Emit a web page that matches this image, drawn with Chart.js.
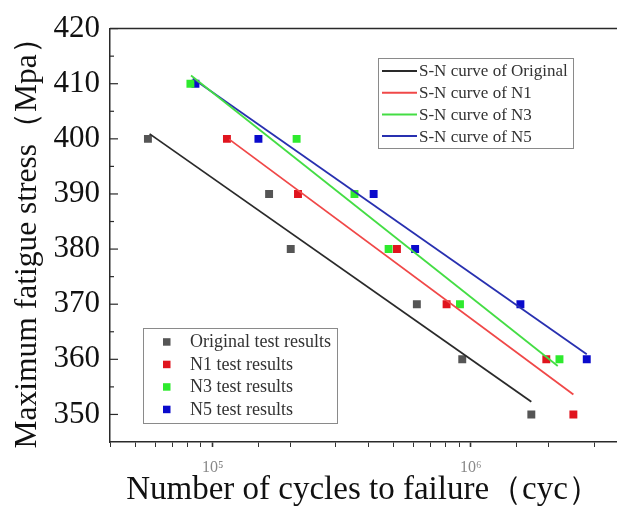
<!DOCTYPE html>
<html>
<head>
<meta charset="utf-8">
<script src="https://cdn.jsdelivr.net/npm/chart.js@4"></script>
<style>
html,body{margin:0;padding:0;background:#fff;overflow:hidden;width:617px;height:517px;}
#wrap{width:628px;height:517px;}
</style>
</head>
<body>
<div id="wrap"><canvas id="c" width="628" height="517"></canvas></div>
<script>
// ---- data (cycles to failure N, stress S in MPa) ----
const originalN = [56100, 165300, 200500, 617500, 925700, 1714000];
const originalS = [400, 390, 380, 370, 360, 350];
const n1N = [113500, 213900, 517000, 805000, 1959000, 2494000];
const n1S = [400, 390, 380, 370, 360, 350];
const n3N = [81950, 211300, 354000, 480000, 907000, 2203000];
const n3S = [410, 400, 390, 380, 370, 360];
const n5N = [85700, 150300, 420000, 608000, 1555000, 2810000];
const n5S = [410, 400, 390, 380, 370, 360];

// fitted S-N curves (end points)
const originalFitN = [56950, 1714000];
const originalFitS = [400.9, 352.3];
const n1FitN = [115900, 2494000];
const n1FitS = [399.9, 353.6];
const n3FitN = [82400, 2170000];
const n3FitS = [411.5, 358.8];
const n5FitN = [83700, 2810000];
const n5FitS = [410.95, 360.9];

const curveLabels = ['S-N curve of Original', 'S-N curve of N1', 'S-N curve of N3', 'S-N curve of N5'];
const pointLabels = ['Original test results', 'N1 test results', 'N3 test results', 'N5 test results'];
const xTickLabels = {5: '10\u2075', 6: '10\u2076'};

const xMin = 40000, xMax = 3680000, yMin = 345, yMax = 420;

const FONT = "'Liberation Serif', 'Times New Roman', 'DejaVu Serif', serif";
const lineColors = ['#2a2a2a', '#f04848', '#44dd44', '#2830b0'];
const pointColors = ['#555555', '#e0141e', '#2eea2e', '#0a0acc'];

function pts(xs, ys) { return xs.map((x, i) => ({x: x, y: ys[i]})); }

const seriesN = [originalN, n1N, n3N, n5N];
const seriesS = [originalS, n1S, n3S, n5S];
const fitN = [originalFitN, n1FitN, n3FitN, n5FitN];
const fitS = [originalFitS, n1FitS, n3FitS, n5FitS];

const datasets = [];
for (let i = 0; i < 4; i++) {
  datasets.push({
    label: pointLabels[i], kind: 'points',
    data: pts(seriesN[i], seriesS[i]),
    showLine: false, pointStyle: 'rect', pointRadius: 5.6,
    backgroundColor: pointColors[i], borderColor: pointColors[i], borderWidth: 0,
    order: 2
  });
}
for (let i = 0; i < 4; i++) {
  datasets.push({
    label: curveLabels[i], kind: 'curve',
    data: pts(fitN[i], fitS[i]),
    showLine: true, pointRadius: 0, borderWidth: 1.8,
    borderColor: lineColors[i], backgroundColor: lineColors[i],
    order: 1
  });
}

function isPow10(v) {
  const l = Math.log10(v);
  return Math.abs(l - Math.round(l)) < 1e-9;
}

const framePlugin = {
  id: 'frame',
  beforeDraw(chart) {
    const ctx = chart.ctx;
    ctx.save();
    ctx.fillStyle = '#fff';
    ctx.fillRect(0, 0, chart.width, chart.height);
    ctx.restore();
  },
  afterDraw(chart) {
    const {ctx, chartArea: a} = chart;
    const y = chart.scales.y;
    ctx.save();
    // top frame line
    ctx.strokeStyle = '#2a2a2a';
    ctx.lineWidth = 1.5;
    ctx.beginPath();
    ctx.moveTo(a.left, a.top);
    ctx.lineTo(chart.width + 2, a.top);
    ctx.stroke();
    // inward y ticks
    ctx.lineWidth = 1.2;
    y.ticks.forEach(t => {
      if (t.value <= y.min) return;
      const py = y.getPixelForValue(t.value);
      const len = (t.value % 10 === 0) ? 8 : 4;
      ctx.beginPath();
      ctx.moveTo(a.left, py);
      ctx.lineTo(a.left + len, py);
      ctx.stroke();
    });

    const ds = chart.data.datasets;
    // legend of curves
    const curves = ds.filter(d => d.kind === 'curve');
    ctx.fillStyle = '#fff';
    ctx.strokeStyle = '#8a8a8a';
    ctx.lineWidth = 1;
    ctx.fillRect(378, 58, 195, 90);
    ctx.strokeRect(378.5, 58.5, 195, 90);
    ctx.font = '17px ' + FONT;
    ctx.textBaseline = 'middle';
    ctx.textAlign = 'left';
    curves.forEach((d, i) => {
      const ry = 71 + i * 21.7;
      ctx.strokeStyle = d.borderColor;
      ctx.lineWidth = 2;
      ctx.beginPath();
      ctx.moveTo(382, ry);
      ctx.lineTo(417, ry);
      ctx.stroke();
      ctx.fillStyle = '#333';
      ctx.fillText(d.label, 419, ry + 1);
    });
    // legend of test points
    const points = ds.filter(d => d.kind === 'points');
    ctx.fillStyle = '#fff';
    ctx.strokeStyle = '#8a8a8a';
    ctx.lineWidth = 1;
    ctx.fillRect(143, 328, 194, 95);
    ctx.strokeRect(143.5, 328.5, 194, 95);
    ctx.font = '18px ' + FONT;
    points.forEach((d, i) => {
      const ry = 341.7 + i * 22.5;
      ctx.fillStyle = d.backgroundColor;
      ctx.fillRect(163, ry - 3.5, 7.5, 7.5);
      ctx.fillStyle = '#333';
      ctx.fillText(d.label, 190, ry + 1);
    });
    ctx.restore();
  }
};

new Chart(document.getElementById('c'), {
  type: 'scatter',
  data: {datasets: datasets},
  options: {
    responsive: false,
    animation: false,
    layout: {padding: {top: 25, right: 0, left: 0, bottom: 0}},
    plugins: {legend: {display: false}, tooltip: {enabled: false}},
    scales: {
      x: {
        type: 'logarithmic', min: xMin, max: xMax,
        grid: {
          drawOnChartArea: false, tickLength: 5, tickColor: '#333',
          tickWidth: c => (c.tick && isPow10(c.tick.value)) ? 1.6 : 1
        },
        border: {color: '#2a2a2a', width: 1.5},
        ticks: {
          autoSkip: false, maxRotation: 0, padding: 11, color: '#888',
          font: {family: FONT, size: 16},
          callback: v => isPow10(v) ? (xTickLabels[Math.round(Math.log10(v))] || '') : ''
        },
        title: {
          display: true, text: 'Number of cycles to failure（cyc）', color: '#111',
          font: {family: FONT, size: 33}, padding: {top: 0, bottom: 7}
        },
        afterFit: s => { s.height = 75; }
      },
      y: {
        min: yMin, max: yMax,
        grid: {drawOnChartArea: false, drawTicks: false},
        border: {color: '#2a2a2a', width: 1.5},
        ticks: {
          stepSize: 5, padding: 10, color: '#111', autoSkip: false,
          font: {family: FONT, size: 31},
          callback: v => (v % 10 === 0) ? String(v) : ''
        },
        title: {
          display: true, text: 'Maximum fatigue stress（Mpa）', color: '#111',
          font: {family: FONT, size: 31.5}, padding: {top: 9, bottom: 0}
        },
        afterFit: s => { s.width = 110; }
      }
    }
  },
  plugins: [framePlugin]
});
</script>
</body>
</html>
